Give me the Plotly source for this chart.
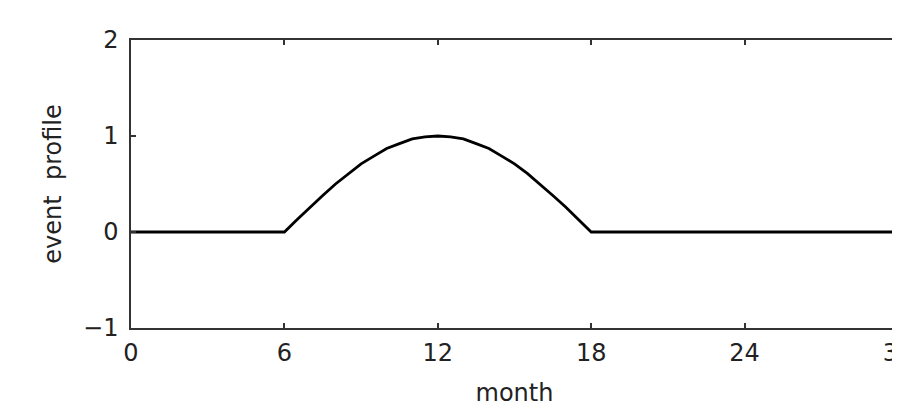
import plotly.graph_objects as go

# Data
months = [0, 6, 6.5, 7, 7.5, 8, 8.5, 9, 9.5, 10, 10.5, 11, 11.5, 12,
          12.5, 13, 13.5, 14, 14.5, 15, 15.5, 16, 16.5, 17, 17.5, 18, 30]
profile = [0, 0, 0.13, 0.26, 0.38, 0.50, 0.61, 0.71, 0.79, 0.87, 0.92, 0.97, 0.99, 1.00,
           0.99, 0.97, 0.92, 0.87, 0.79, 0.71, 0.61, 0.50, 0.38, 0.26, 0.13, 0, 0]
x_ticks = [0, 6, 12, 18, 24, 30]
y_ticks = [-1, 0, 1, 2]

FONT = "DejaVu Sans"
AX = "#333333"
TXT = "#222222"

fig = go.Figure()
fig.add_trace(go.Scatter(x=months, y=profile, mode="lines",
                         line=dict(color="black", width=2.8),
                         showlegend=False, hoverinfo="skip"))

axis_common = dict(
    showgrid=False, zeroline=False, automargin=False,
    showline=True, linecolor=AX, linewidth=1.5, mirror="ticks",
    ticks="inside", ticklen=5, tickwidth=1.5, tickcolor=AX,
    tickfont=dict(family=FONT, size=24, color=TXT),
    ticklabeloverflow="allow",
)

fig.update_xaxes(range=[0, 30], tickmode="array", tickvals=x_ticks,
                 ticktext=[str(v) for v in x_ticks],
                 title=dict(text="month", font=dict(family=FONT, size=24, color=TXT),
                            standoff=19),
                 ticklabelstandoff=2,
                 **axis_common)
fig.update_yaxes(range=[-1, 2], tickmode="array", tickvals=y_ticks,
                 ticktext=["\u22121", "0", "1", "2"],
                 title=dict(text="event  profile", font=dict(family=FONT, size=24, color=TXT),
                            standoff=15),
                 ticklabelstandoff=6,
                 **axis_common)

# The page body has an 8px default margin, so margins are offset to place the
# plot frame where it sits in the reference.
fig.update_layout(width=900, height=408, autosize=False,
                  margin=dict(l=123, r=10, t=32, b=88),
                  paper_bgcolor="white", plot_bgcolor="white")

fig.write_html("out.html", config={"responsive": False})
